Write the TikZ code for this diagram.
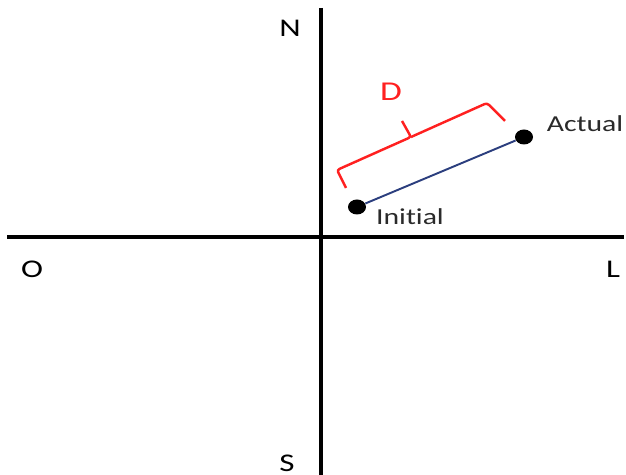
\documentclass[tikz,border=0pt]{standalone}
\usepackage{fontspec}
\setmainfont{Carlito}[Ligatures=NoCommon]
\usepackage{tikz}
\usetikzlibrary{positioning,calc}
\definecolor{cInk}{HTML}{000000}
\definecolor{cText}{HTML}{2A2A2A}
\definecolor{cTrack}{HTML}{2B3E7E}
\definecolor{cDist}{HTML}{FF2020}
\tikzset{
  axis/.style   = {draw=cInk, line width=2.2pt},
  track/.style  = {draw=cTrack, line width=1.1pt},
  dist/.style   = {draw=cDist, line width=1.4pt, rounded corners=1.5pt},
  dot/.style    = {circle, fill=cInk, inner sep=0pt, minimum size=3mm, xscale=1.2},
  compass/.style = {font=\fontsize{14.5}{17}\selectfont, text=cInk, xscale=1.3, inner sep=0pt},
  tag/.style    = {font=\fontsize{13}{15}\selectfont, text=cText, xscale=1.3, inner sep=0pt},
  dlabel/.style = {font=\fontsize{15.5}{18}\selectfont, text=cDist, xscale=1.3, inner sep=0pt},
}
\begin{document}
\begin{tikzpicture}[x=0.02cm, y=-0.02cm]
  \useasboundingbox (0,0) rectangle (626,475);
  \coordinate (nt) at (321,8);
  \coordinate (sb) at (321,475);
  \coordinate (ow) at (7,237);
  \coordinate (le) at (624,237);
  \draw[axis] (nt) -- (sb);
  \draw[axis] (ow) -- (le);
  \node[compass] (n) at (290,28) {N};
  \node[compass] (o) at (32,269) {O};
  \node[compass] (l) at (613,269) {L};
  \node[compass] (s) at (287,463) {S};
  \node[dot] (ini) at (357,207) {};
  \node[dot] (act) at (524,137) {};
  \draw[track] (ini) -- (act);
  \node[tag] (initl) at (410,217) {Initial};
  \node[tag] (actl) at (585,124) {Actual};
  \coordinate (b1) at (346,188);
  \coordinate (b2) at (337,170);
  \coordinate (bm) at (411,137);
  \coordinate (bt) at (402,121);
  \coordinate (b3) at (487,103);
  \coordinate (b4) at (505,121);
  \draw[dist] (b1) -- (b2) -- (bm) -- (bt);
  \draw[dist] (bm) -- (b3) -- (b4);
  \node[dlabel] (d) at (391,92) {D};
\end{tikzpicture}
\end{document}
